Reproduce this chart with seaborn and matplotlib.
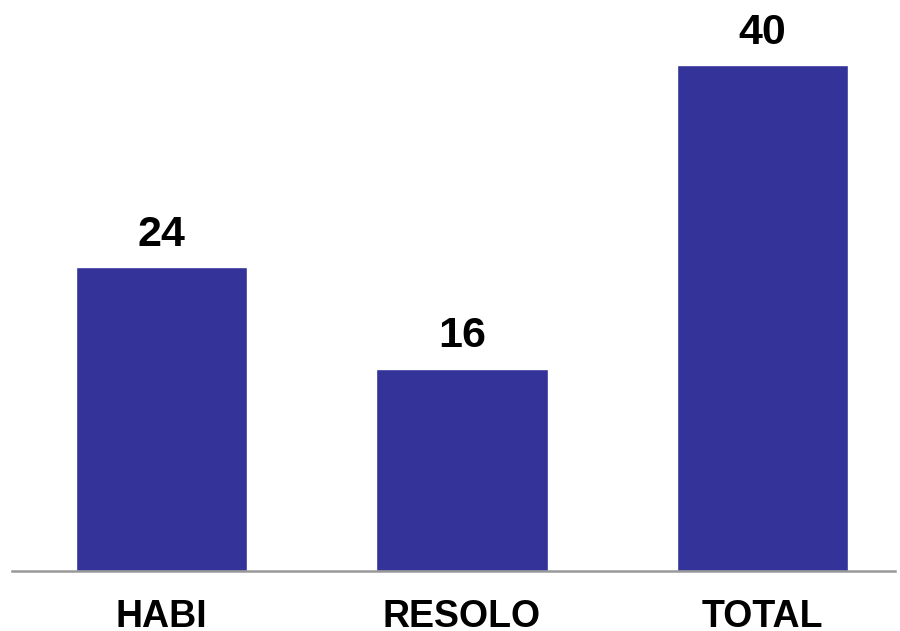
import matplotlib
matplotlib.use("Agg")
import matplotlib.pyplot as plt
import seaborn as sns
import pandas as pd

categories = ["HABI", "RESOLO", "TOTAL"]
values = [24, 16, 40]

sns.set_theme(style="white")
plt.rcParams['font.family'] = ['Liberation Sans', 'DejaVu Sans']

df = pd.DataFrame({"cat": categories, "val": values})

fig = plt.figure(figsize=(9, 6.31), dpi=100)
ax = fig.add_axes([12/900, 60/631, 883/900, 571/631])
sns.barplot(data=df, x="cat", y="val", color="#333399", saturation=1, width=0.57, ax=ax)

ax.set_xlim(-0.4975, 2.441)
ax.set_ylim(0, 571/12.65)
for s in ["top", "right", "left"]:
    ax.spines[s].set_visible(False)
ax.spines["bottom"].set_color("#999999")
ax.spines["bottom"].set_linewidth(1.8)
ax.set_yticks([])
ax.set_xlabel("")
ax.set_ylabel("")
ax.tick_params(axis="x", length=0, pad=20, labelsize=27)
for lbl in ax.get_xticklabels():
    lbl.set_fontweight("bold")
    lbl.set_color("black")

for i, v in enumerate(values):
    ax.annotate(str(v), (i, v), xytext=(0, 9), textcoords="offset points",
                ha="center", va="bottom", fontsize=31, fontweight="bold", color="black")

fig.savefig("out.png", dpi=100)
